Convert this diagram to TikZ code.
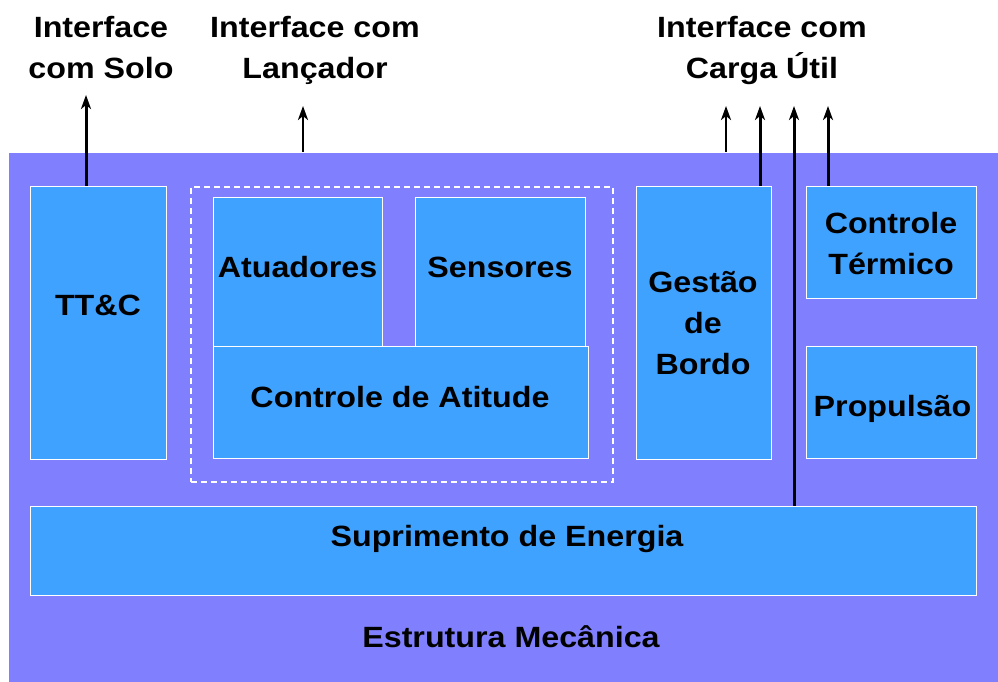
\documentclass[tikz,border=0pt]{standalone}
\usepackage{fontspec}
\setmainfont{Liberation Sans}[FakeStretch=1.1]
\usetikzlibrary{arrows.meta,calc}
\definecolor{structc}{HTML}{8080FF}
\definecolor{boxc}{HTML}{40A2FF}
\begin{document}
\begin{tikzpicture}[x=1pt,y=-1pt,
  lbl/.style={font=\fontsize{29.3}{41}\selectfont\bfseries, inner sep=0pt, align=center},
  blk/.style={draw=white, line width=1.2pt, fill=boxc, anchor=north west, inner sep=0pt},
  arr/.style={line width=3pt, -{Stealth[length=14pt,width=10pt,inset=4pt]}}]
\useasboundingbox (0,0) rectangle (998,682);
% structure
\node[draw=white, line width=1pt, fill=structc, anchor=north west, inner sep=0pt,
      minimum width=992pt, minimum height=532pt] (estr) at (8,152) {};
% blocks
\node[blk, minimum width=136pt, minimum height=273pt] (ttc) at (30,186) {};
\node[draw=white, line width=1.5pt, dash pattern=on 6pt off 4pt, anchor=north west, inner sep=0pt,
      minimum width=422pt, minimum height=295pt] (grp) at (190,186) {};
\node[blk, minimum width=169pt, minimum height=150pt] (atu) at (213,197) {};
\node[blk, minimum width=170pt, minimum height=150pt] (sen) at (415,197) {};
\node[blk, minimum width=375pt, minimum height=112pt] (cat) at (213,346) {};
\node[blk, minimum width=135pt, minimum height=273pt] (gb) at (636,186) {};
\node[blk, minimum width=170pt, minimum height=112pt] (ct) at (806,186) {};
\node[blk, minimum width=170pt, minimum height=112pt] (prop) at (806,346) {};
\node[blk, minimum width=946pt, minimum height=89pt] (sup) at (30,506) {};
% labels
\node[lbl, anchor=base] (ttct) at (98,315) {TT\&C};
\node[lbl, anchor=base] (atut) at (297.5,277) {Atuadores};
\node[lbl, anchor=base] (sent) at (500,277) {Sensores};
\node[lbl, anchor=base] (catt) at (400,407) {Controle de Atitude};
\node[lbl, anchor=north] (gbt) at (703,271) {Gestão\\de\\Bordo};
\node[lbl, anchor=north] (ctt) at (891,212) {Controle\\Térmico};
\node[lbl, anchor=base] (propt) at (892.5,416) {Propulsão};
\node[lbl, anchor=base] (supt) at (507,546) {Suprimento de Energia};
\node[lbl, anchor=base] (estrt) at (511,647) {Estrutura Mecânica};
\node[lbl, anchor=north] (isolo) at (101,16.5) {Interface\\com Solo};
\node[lbl, anchor=north] (ilanc) at (315,16.5) {Interface com\\Lançador};
\node[lbl, anchor=north] (icarga) at (762,16.5) {Interface com\\Carga Útil};
% arrow tips
\coordinate (a1) at (86,95);
\coordinate (a2) at (303,106);
\coordinate (a3) at (726,106);
\coordinate (a4) at (760,106);
\coordinate (a5) at (794,106);
\coordinate (a6) at (828,106);
\draw[arr] (ttc.north -| a1) -- (a1);
\draw[arr, line width=2.5pt] (estr.north -| a2) -- (a2);
\draw[arr, line width=2.5pt] (estr.north -| a3) -- (a3);
\draw[arr] (gb.north -| a4) -- (a4);
\draw[arr] (sup.north -| a5) -- (a5);
\draw[arr] (ct.north -| a6) -- (a6);
\end{tikzpicture}
\end{document}
